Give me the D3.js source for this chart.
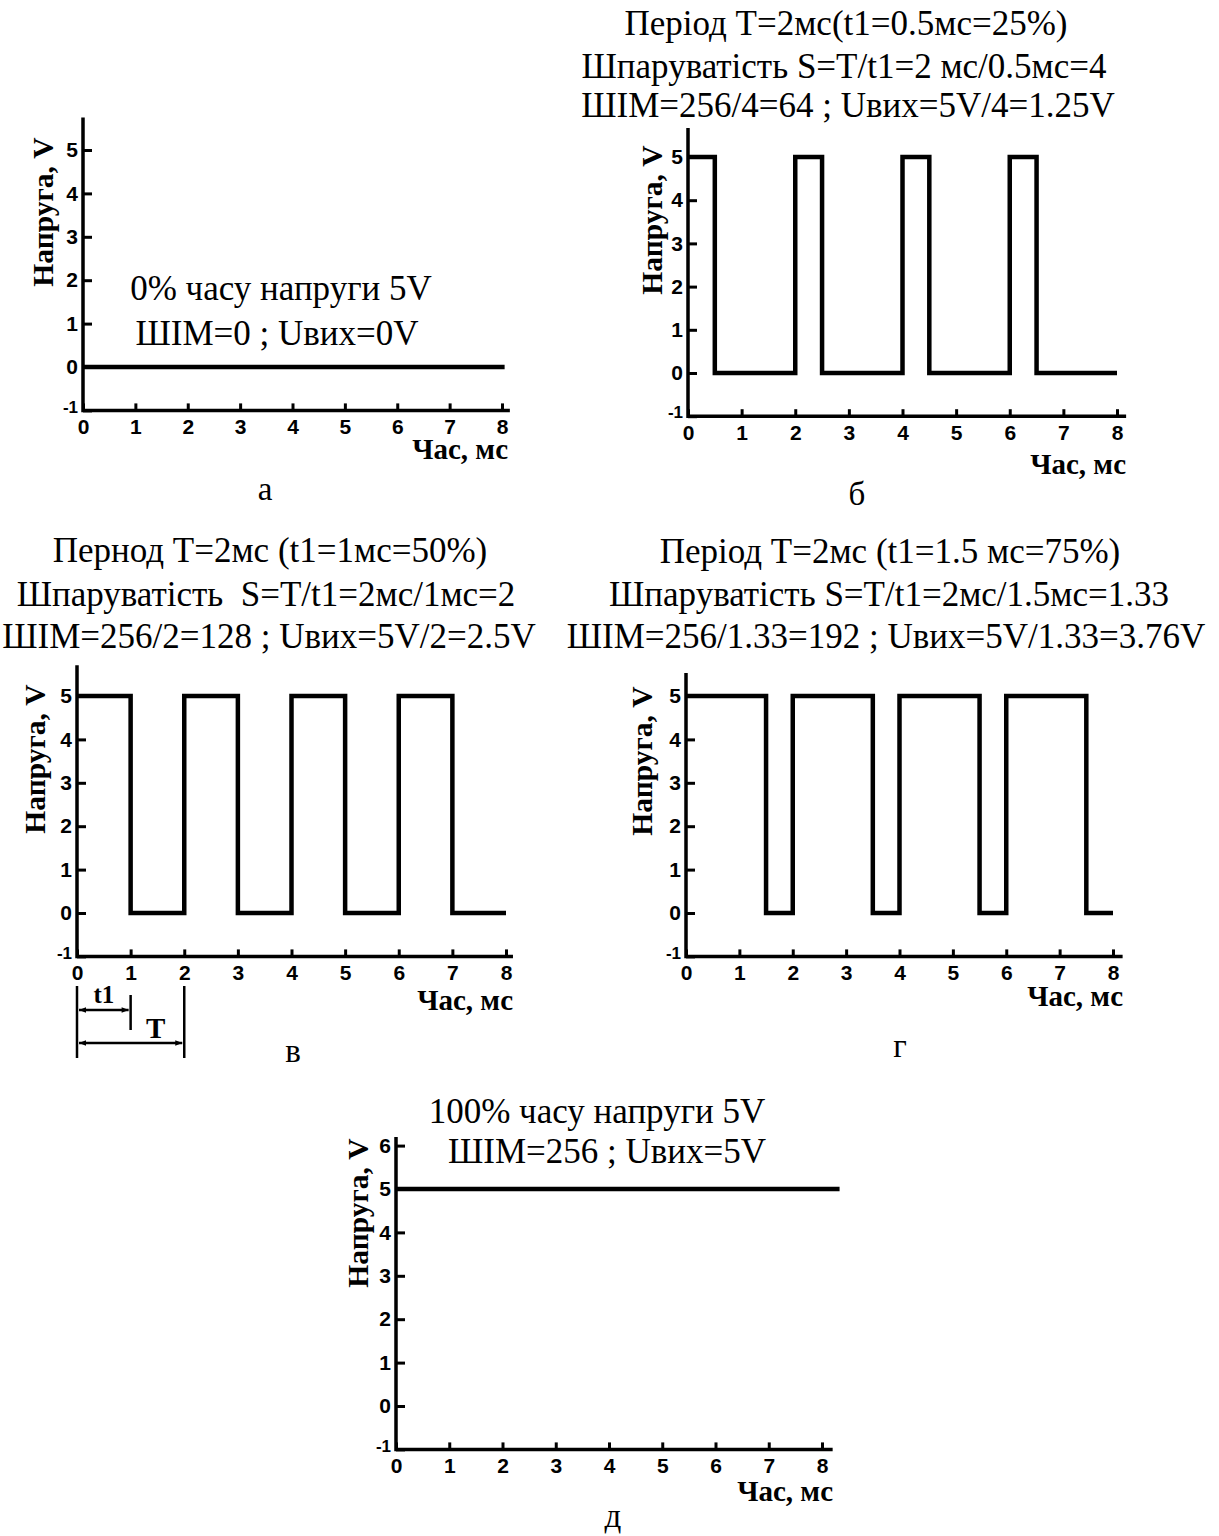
<!DOCTYPE html>
<html>
<head>
<meta charset="utf-8">
<script src="https://cdn.jsdelivr.net/npm/d3@7"></script>
<style>
  body { margin: 0; background: #fff; }
</style>
</head>
<body>
<svg id="chart" width="1219" height="1536"></svg>
<script>
// tick values
const xTicks = [0, 1, 2, 3, 4, 5, 6, 7, 8];
const yTicks = [-1, 0, 1, 2, 3, 4, 5];
const yTicksD = [-1, 0, 1, 2, 3, 4, 5, 6];

// signals: edge times (ms) and level after each edge (V)
const timeA = [0, 8.05];
const voltA = [0, 0];
const timeB = [0, 0.5, 2, 2.5, 4, 4.5, 6, 6.5, 8];
const voltB = [5, 0, 5, 0, 5, 0, 5, 0, 0];
const timeV = [0, 1, 2, 3, 4, 5, 6, 7, 8];
const voltV = [5, 0, 5, 0, 5, 0, 5, 0, 0];
const timeG = [0, 1.5, 2, 3.5, 4, 5.5, 6, 7.5, 8];
const voltG = [5, 0, 5, 0, 5, 0, 5, 0, 0];
const timeD = [0, 8.33];
const voltD = [5, 5];

// texts
const textA = ["0% часу напруги 5V", "ШІМ=0 ; Uвих=0V"];
const textB = ["Період T=2мс(t1=0.5мс=25%)", "Шпаруватість S=T/t1=2 мс/0.5мс=4", "ШІМ=256/4=64 ; Uвих=5V/4=1.25V"];
const textV = ["Пернод T=2мс (t1=1мс=50%)", "Шпаруватість  S=T/t1=2мс/1мс=2", "ШІМ=256/2=128 ; Uвих=5V/2=2.5V"];
const textG = ["Період T=2мс (t1=1.5 мс=75%)", "Шпаруватість S=T/t1=2мс/1.5мс=1.33", "ШІМ=256/1.33=192 ; Uвих=5V/1.33=3.76V"];
const textD = ["100% часу напруги 5V", "ШІМ=256 ; Uвих=5V"];
const panelNames = ["а", "б", "в", "г", "д"];
const yLabel = "Напруга, V";
const xLabel = "Час, мс";

// period marks under panel в (ms)
const spanT1 = [0, 1];
const spanT = [0, 2];

// layout of each panel (pixels)
const panels = [
  {time: timeA, volt: voltA, ticks: yTicks, x0: 83, x8: 502, y5: 150, y0: 367, yTop: 5.75, xEnd: 8.15,
   text: textA, tx: [281, 277], ty: [300, 345], ylx: 53, yly: 212, xlx: 508, xly: 459, nx: 265, ny: 500},
  {time: timeB, volt: voltB, ticks: yTicks, x0: 688, x8: 1117, y5: 157, y0: 373, yTop: 5.67, xEnd: 8.17,
   text: textB, tx: [846, 844, 848], ty: [35, 78, 117], ylx: 662, yly: 220, xlx: 1126, xly: 474, nx: 857, ny: 505},
  {time: timeV, volt: voltV, ticks: yTicks, x0: 77, x8: 506, y5: 696, y0: 913, yTop: 5.71, xEnd: 8.13,
   text: textV, tx: [270, 266, 269], ty: [562, 606, 648], ylx: 45, yly: 759, xlx: 513, xly: 1010, nx: 293, ny: 1062},
  {time: timeG, volt: voltG, ticks: yTicks, x0: 686, x8: 1113, y5: 696, y0: 913, yTop: 5.53, xEnd: 8.18,
   text: textG, tx: [890, 889, 886], ty: [563, 606, 648], ylx: 652, yly: 761, xlx: 1123, xly: 1006, nx: 900, ny: 1057},
  {time: timeD, volt: voltD, ticks: yTicksD, x0: 396, x8: 822, y5: 1189, y0: 1406, yTop: 6.2, xEnd: 8.2,
   text: textD, tx: [597, 607], ty: [1123, 1163], ylx: 368, yly: 1213, xlx: 833, xly: 1501, nx: 613, ny: 1527}
];

const serif = "'Liberation Serif', 'Times New Roman', serif";
const sans = "'Liberation Sans', Arial, sans-serif";

const svg = d3.select("#chart");
svg.append("rect").attr("width", 1219).attr("height", 1536).attr("fill", "#fff");

const defs = svg.append("defs");
["start", "end"].forEach(k => {
  defs.append("marker")
    .attr("id", "arr-" + k)
    .attr("viewBox", "0 0 10 10")
    .attr("refX", k === "end" ? 10 : 0).attr("refY", 5)
    .attr("markerWidth", 10).attr("markerHeight", 7)
    .attr("markerUnits", "userSpaceOnUse")
    .attr("orient", "auto")
    .append("path")
    .attr("d", k === "end" ? "M0,1 L10,5 L0,9 Z" : "M10,1 L0,5 L10,9 Z")
    .attr("fill", "#000");
});

let scalesV = null;

panels.forEach((p, i) => {
  const x = d3.scaleLinear().domain([0, 8]).range([p.x0, p.x8]);
  const y = d3.scaleLinear().domain([0, 5]).range([p.y0, p.y5]);
  if (i === 2) scalesV = {x, y};
  const g = svg.append("g");

  // axis lines
  g.append("path")
    .attr("d", d3.line()([[x(0), y(p.yTop)], [x(0), y(-1)], [x(p.xEnd), y(-1)]]))
    .attr("fill", "none").attr("stroke", "#000").attr("stroke-width", 3.5)
    .attr("stroke-linejoin", "miter");

  const yAxis = g.append("g")
    .attr("transform", `translate(${x(0)},0)`)
    .call(d3.axisLeft(y).tickValues(p.ticks).tickFormat(d => String(d))
      .tickSize(-9).tickPadding(5).tickSizeOuter(0));
  const xAxis = g.append("g")
    .attr("transform", `translate(0,${y(-1)})`)
    .call(d3.axisBottom(x).tickValues(xTicks).tickFormat(d => String(d))
      .tickSize(-7).tickPadding(9).tickSizeOuter(0));
  [yAxis, xAxis].forEach(a => {
    a.select(".domain").remove();
    a.selectAll(".tick line").attr("stroke", "#000").attr("stroke-width", 3);
    a.selectAll(".tick text").attr("fill", "#000")
      .style("font-family", sans).style("font-weight", "bold").style("font-size", "21px");
  });
  // the -1 label sits a bit smaller at the corner
  yAxis.selectAll(".tick").filter(d => d === -1).select("text")
    .style("font-size", "17px").attr("dy", "0.1em");

  // signal
  const pts = p.time.map((t, k) => [t, p.volt[k]]);
  g.append("path")
    .datum(pts)
    .attr("d", d3.line().x(d => x(d[0])).y(d => y(d[1])).curve(d3.curveStepAfter))
    .attr("fill", "none").attr("stroke", "#000").attr("stroke-width", 4.5)
    .attr("stroke-linejoin", "miter").attr("stroke-linecap", "butt");

  // titles / notes
  g.selectAll("text.note")
    .data(p.text)
    .enter().append("text")
    .attr("class", "note")
    .attr("x", (d, k) => p.tx[k]).attr("y", (d, k) => p.ty[k])
    .attr("text-anchor", "middle")
    .style("font-family", serif).style("font-size", "35px")
    .style("white-space", "pre")
    .text(d => d);

  // axis titles
  g.append("text")
    .attr("transform", `translate(${p.ylx},${p.yly}) rotate(-90)`)
    .attr("text-anchor", "middle")
    .style("font-family", serif).style("font-weight", "bold").style("font-size", "29.5px")
    .text(yLabel);
  g.append("text")
    .attr("x", p.xlx).attr("y", p.xly)
    .attr("text-anchor", "end")
    .style("font-family", serif).style("font-weight", "bold").style("font-size", "29px")
    .text(xLabel);

  // panel letter
  g.append("text")
    .attr("x", p.nx).attr("y", p.ny)
    .attr("text-anchor", "middle")
    .style("font-family", serif).style("font-size", "33px")
    .text(panelNames[i]);
});

// t1 and T marks under panel в
(function () {
  const {x} = scalesV;
  const g = svg.append("g").attr("stroke", "#000").attr("stroke-width", 2.5);
  const vlines = [[spanT[0], 986, 1058], [spanT1[1], 995, 1030], [spanT[1], 986, 1058]];
  vlines.forEach(v => {
    g.append("line").attr("x1", x(v[0])).attr("x2", x(v[0])).attr("y1", v[1]).attr("y2", v[2]);
  });
  [[spanT1, 1010], [spanT, 1043]].forEach(s => {
    g.append("line")
      .attr("x1", x(s[0][0]) + 2).attr("x2", x(s[0][1]) - 2)
      .attr("y1", s[1]).attr("y2", s[1])
      .attr("marker-start", "url(#arr-start)")
      .attr("marker-end", "url(#arr-end)");
  });
  svg.append("text")
    .attr("x", (x(spanT1[0]) + x(spanT1[1])) / 2).attr("y", 1003)
    .attr("text-anchor", "middle")
    .style("font-family", serif).style("font-weight", "bold").style("font-size", "25px")
    .text("t1");
  svg.append("text")
    .attr("x", x(spanT1[1]) + 25).attr("y", 1038)
    .attr("text-anchor", "middle")
    .style("font-family", serif).style("font-weight", "bold").style("font-size", "29px")
    .text("T");
})();
</script>
</body>
</html>
